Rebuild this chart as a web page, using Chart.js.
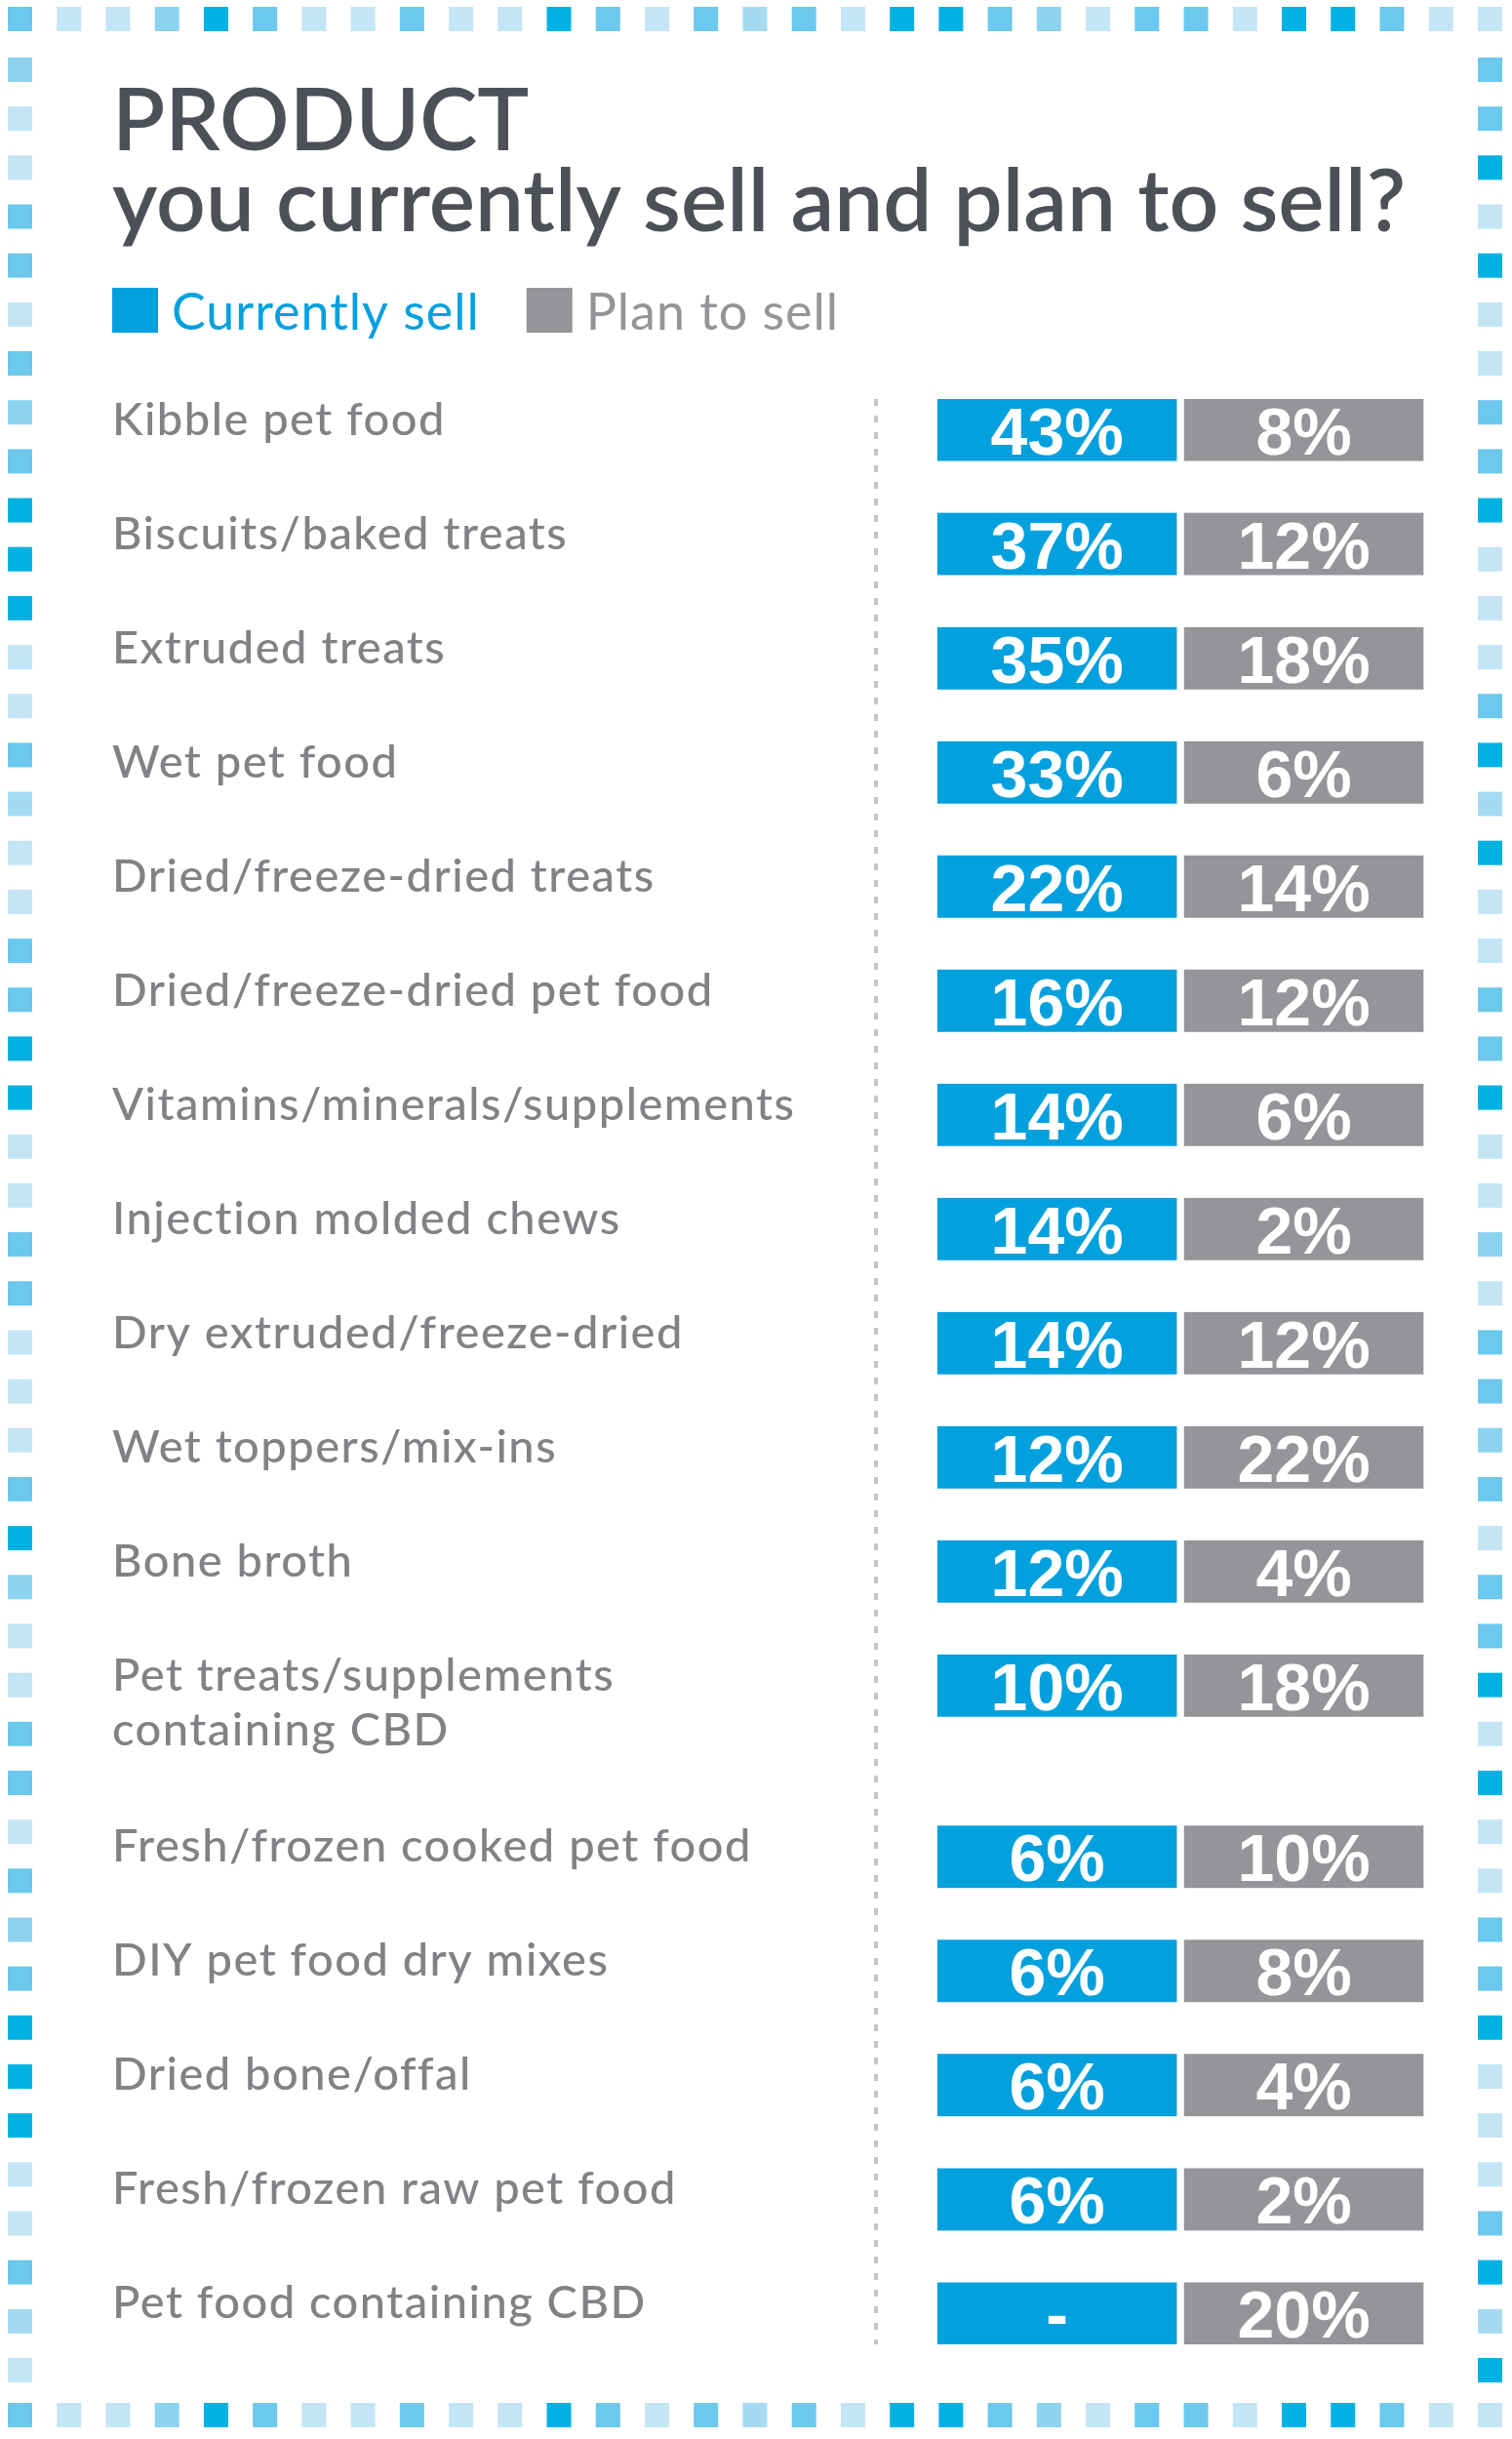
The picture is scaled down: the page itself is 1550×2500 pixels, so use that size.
<!DOCTYPE html>
<html>
<head>
<meta charset="utf-8">
<title>Product you currently sell and plan to sell</title>
<script src="https://cdn.jsdelivr.net/npm/chart.js@4.4.1/dist/chart.umd.min.js"></script>
<style>
  html, body { margin: 0; padding: 0; background: #fff; }
  #wrap { width: 1550px; height: 2500px; position: relative; }
</style>
</head>
<body>
<div id="wrap"><canvas id="myChart"></canvas></div>
<script>
const products = [
	'Kibble pet food', 'Biscuits/baked treats', 'Extruded treats', 'Wet pet food',
	'Dried/freeze-dried treats', 'Dried/freeze-dried pet food', 'Vitamins/minerals/supplements',
	'Injection molded chews', 'Dry extruded/freeze-dried', 'Wet toppers/mix-ins', 'Bone broth',
	['Pet treats/supplements', 'containing CBD'], 'Fresh/frozen cooked pet food',
	'DIY pet food dry mixes', 'Dried bone/offal', 'Fresh/frozen raw pet food', 'Pet food containing CBD'
];
const currentlySell = [43, 37, 35, 33, 22, 16, 14, 14, 14, 12, 12, 10, 6, 6, 6, 6, null];
const planToSell = [8, 12, 18, 6, 14, 12, 6, 2, 12, 22, 4, 18, 10, 8, 4, 2, 20];
const seriesNames = ['Currently sell', 'Plan to sell'];
const seriesColors = ['#03a0de', '#939598'];

// row positions: a label on two lines pushes the next rows down half a row
let rowPos = [], shift = 0;
products.forEach((p, i) => {
	rowPos.push(i + shift);
	if (Array.isArray(p)) shift += (p.length - 1) * 0.5;
});

// dotted blue frame round the page
const framePlugin = {
	id: 'frame',
	beforeDraw(chart) {
		const ctx = chart.ctx;
		const shades = ['#00b2e3', '#6cc8ec', '#8dd2ef', '#a6daf2', '#c3e5f5'];
		const topRow = [1,4,4,2,0,1,4,4,1,4,4,0,1,4,1,3,1,4,0,0,1,2,4,1,1,4,0,0,1,4,4];
		ctx.save();
		topRow.forEach((c, k) => {
			const x = 8 + k * 50.23;
			ctx.fillStyle = shades[c];
			ctx.fillRect(x, 7, 25, 25);
			ctx.fillRect(x, 2463, 25, 25);
		});
		for (let j = 0; j < 48; j++) {
			const y = 59 + j * 50.17;
			ctx.fillStyle = shades[topRow[(j * 7 + 3) % 31]];
			ctx.fillRect(8, y, 25, 25);
			ctx.fillStyle = shades[topRow[(j * 11 + 5) % 31]];
			ctx.fillRect(1515, y, 25, 25);
		}
		ctx.restore();
	}
};

// product names on the left, percentages inside the boxes
const labelPlugin = {
	id: 'rowLabels',
	afterDatasetsDraw(chart) {
		const {ctx, chartArea, scales: {y}} = chart;
		ctx.save();
		ctx.font = '500 47px Lato';
		ctx.letterSpacing = '1.5px';
		ctx.fillStyle = '#808285';
		ctx.textAlign = 'left';
		ctx.textBaseline = 'alphabetic';
		products.forEach((p, i) => {
			const py = y.getPixelForValue(rowPos[i]) + 5;
			[].concat(p).forEach((line, k) => ctx.fillText(line, chartArea.left, py + k * 56));
		});
		ctx.font = 'bold 68px "Liberation Sans"';
		ctx.letterSpacing = '0px';
		ctx.fillStyle = '#fff';
		ctx.textAlign = 'center';
		chart.data.datasets.forEach((ds, di) => {
			chart.getDatasetMeta(di).data.forEach((bar, i) => {
				const v = ds.data[i].v;
				ctx.fillText(v == null ? '-' : v + '%', (bar.x + bar.base) / 2, bar.y + 25);
			});
		});
		ctx.restore();
	}
};

// legend: coloured square and coloured text
const legendPlugin = {
	id: 'boxLegend',
	afterDraw(chart) {
		const ctx = chart.ctx;
		let x = chart.chartArea.left;
		ctx.save();
		ctx.font = '52px Lato';
		ctx.letterSpacing = '1px';
		ctx.textBaseline = 'alphabetic';
		chart.data.datasets.forEach(ds => {
			ctx.fillStyle = ds.backgroundColor;
			ctx.fillRect(x, 295, 47, 46);
			ctx.fillText(ds.label, x + 61, 338);
			x += 61 + ctx.measureText(ds.label).width + 48;
		});
		ctx.restore();
	}
};

const ctx = document.getElementById('myChart');
const myChart = new Chart(ctx, {
	type: 'bar',
	data: {
		datasets: seriesNames.map((name, di) => ({
			label: name,
			data: [currentlySell, planToSell][di].map((v, i) => ({x: [di, di + 1], y: rowPos[i], v: v})),
			backgroundColor: seriesColors[di],
			borderColor: '#fff',
			borderWidth: {left: 4, right: 4, top: 0, bottom: 0},
			borderSkipped: false,
			barThickness: 64,
			grouped: false
		}))
	},
	options: {
		indexAxis: 'y',
		responsive: true,
		maintainAspectRatio: false,
		animation: false,
		events: [],
		layout: {padding: {left: 115, right: 87, top: 0, bottom: 97}},
		plugins: {
			legend: {display: false},
			tooltip: {enabled: false},
			title: {
				display: true,
				text: ['PRODUCT', 'you currently sell and plan to sell?'],
				align: 'start',
				color: '#4e5058',
				font: {family: 'Lato', size: 89, weight: 600, lineHeight: '83px'},
				padding: {top: 84, bottom: 159}
			}
		},
		scales: {
			x: {
				type: 'linear',
				min: -3.33,
				max: 2,
				// one dashed line between names and boxes
				afterBuildTicks: s => { s.ticks = [{value: -0.233}]; },
				ticks: {display: false},
				grid: {color: '#c4c5c7', lineWidth: 4, drawTicks: false},
				border: {display: false, dash: [7, 10]}
			},
			y: {
				type: 'linear',
				reverse: true,
				offset: false,
				min: -0.27,
				max: rowPos[rowPos.length - 1] + 0.27,
				display: false
			}
		}
	},
	plugins: [framePlugin, labelPlugin, legendPlugin]
});
</script>
</body>
</html>
